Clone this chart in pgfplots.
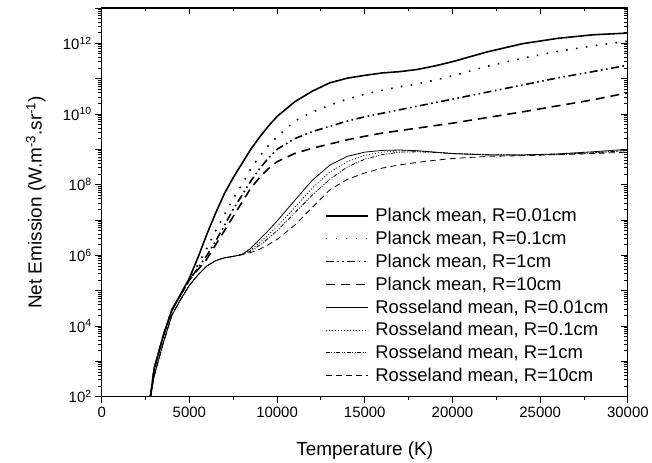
\documentclass[border=0pt]{standalone}
\usepackage{fontspec}
\setmainfont{Liberation Sans}
\usepackage{pgfplots}
\usepackage{pgfplotstable}
\pgfplotsset{compat=1.18}

% Planck mean absorption, net emission vs temperature
\pgfplotstableread{
T      P001     P01      P1       P10
2780   1e2      1e2      1e2      1e2
3000   6.31e2   6.31e2   6.31e2   6.31e2
3500   5.01e3   5.01e3   5.01e3   5.01e3
4000   2.82e4   2.82e4   2.82e4   2.82e4
4500   7.94e4   7.59e4   7.59e4   7.59e4
5000   2.24e5   2.0e5    2.0e5    2.0e5
5500   8.91e5   5.62e5   4.47e5   3.98e5
6000   3.98e6   1.58e6   1.0e6    7.94e5
6500   1.58e7   5.01e6   2.51e6   2.0e6
7000   5.62e7   1.41e7   7.08e6   5.01e6
7500   1.58e8   3.98e7   2.0e7    1.26e7
8000   3.98e8   1.0e8    5.01e7   3.16e7
8500   1.0e9    2.82e8   1.26e8   7.94e7
9000   2.2e9    6.31e8   2.82e8   1.58e8
9500   4.5e9    1.26e9   5.62e8   2.82e8
10000  8.5e9    2.24e9   1.0e9    4.47e8
11000  2.2e10   6.31e9   2.0e9    7.59e8
12000  4.4e10   1.12e10  3.16e9   1.07e9
13000  7.6e10   1.78e10  4.47e9   1.41e9
14000  1.03e11  2.63e10  6.31e9   1.86e9
15000  1.24e11  3.63e10  8.32e9   2.34e9
16000  1.45e11  4.68e10  1.05e10  2.88e9
17000  1.58e11  5.89e10  1.32e10  3.39e9
18000  1.82e11  7.08e10  1.66e10  3.98e9
19000  2.29e11  9.12e10  2.09e10  4.68e9
20000  3.02e11  1.20e11  2.63e10  5.50e9
22000  5.75e11  2.24e11  4.17e10  7.94e9
24000  9.77e11  3.80e11  6.61e10  1.15e10
26000  1.38e12  5.89e11  1.05e11  1.70e10
28000  1.74e12  8.51e11  1.58e11  2.51e10
30000  1.95e12  1.15e12  2.40e11  3.98e10
}\planck

% Rosseland mean absorption
\pgfplotstableread{
T      R001     R01      R1       R10
2780   1e2      1e2      1e2      1e2
3000   3.98e2   3.98e2   3.98e2   3.98e2
3500   3.16e3   3.16e3   3.16e3   3.16e3
4000   2.0e4    2.0e4    2.0e4    2.0e4
4500   5.62e4   5.62e4   5.62e4   5.62e4
5000   1.41e5   1.41e5   1.41e5   1.41e5
5500   2.82e5   2.82e5   2.82e5   2.82e5
6000   5.01e5   5.01e5   5.01e5   5.01e5
6500   7.08e5   7.08e5   7.08e5   7.08e5
7000   8.51e5   8.51e5   8.51e5   8.51e5
7500   9.33e5   9.33e5   9.33e5   9.33e5
8000   1.05e6   1.05e6   1.05e6   1.05e6
8500   1.58e6   1.41e6   1.32e6   1.20e6
9000   2.82e6   2.24e6   1.91e6   1.48e6
9500   5.01e6   3.80e6   3.02e6   2.0e6
10000  9.33e6   6.61e6   5.01e6   2.82e6
11000  3.55e7   2.24e7   1.58e7   7.08e6
12000  1.32e8   7.94e7   5.01e7   2.24e7
13000  3.55e8   2.24e8   1.41e8   7.08e7
14000  6.31e8   4.47e8   3.16e8   1.41e8
15000  8.32e8   6.76e8   5.25e8   2.14e8
16000  9.33e8   8.32e8   7.08e8   2.95e8
17000  9.55e8   9.12e8   8.32e8   3.63e8
18000  9.12e8   8.91e8   8.51e8   4.27e8
19000  8.32e8   8.32e8   8.13e8   4.90e8
20000  7.59e8   7.59e8   7.59e8   5.50e8
22000  6.92e8   7.08e8   7.08e8   6.31e8
24000  6.92e8   6.92e8   6.92e8   6.61e8
26000  7.41e8   7.24e8   7.24e8   7.08e8
28000  8.51e8   7.94e8   7.94e8   7.59e8
30000  1.0e9    9.33e8   9.33e8   8.32e8
}\rosseland

\pgfplotsset{
  commonaxis/.style={
    scale only axis, width=528pt, height=390pt,
    xmin=0, xmax=30000, ymin=1e2, ymax=1e13,
    scaled x ticks=false,
    axis line style={line width=1.1pt},
    xtick={0,5000,...,30000}, minor x tick num=1,
    ytick={1e2,1e3,1e4,1e5,1e6,1e7,1e8,1e9,1e10,1e11,1e12,1e13},
    major tick length=6.5pt, minor tick length=3.5pt,
    every tick/.style={line width=0.9pt, black},
  },
}

\begin{document}
\begin{tikzpicture}
% mirrored ticks on top and right, pointing in
\begin{axis}[ymode=log, commonaxis,
  tick align=inside, xtick pos=right, ytick pos=right,
  xticklabels={}, yticklabels={}]
\end{axis}

\begin{axis}[ymode=log, commonaxis,
  tick align=outside, xtick pos=left, ytick pos=left,
  xticklabel style={/pgf/number format/.cd, fixed, 1000 sep={}},
  /pgf/number format/assume math mode=true,
  tick label style={font=\fontsize{15}{18}\selectfont},
  yticklabels={10\textsuperscript{2},,10\textsuperscript{4},,10\textsuperscript{6},,10\textsuperscript{8},,10\textsuperscript{10},,10\textsuperscript{12},},
  xlabel={Temperature (K)},
  ylabel={Net Emission (W.m\textsuperscript{-3}.sr\textsuperscript{-1})},
  label style={font=\fontsize{19}{22}\selectfont},
  xlabel style={at={(axis description cs:0.5,-0.138)},anchor=center},
  ylabel style={at={(axis description cs:-0.125,0.5)},anchor=center},
  legend cell align=left,
  legend style={draw=none, fill=none, at={(0.424,0.49)}, anchor=north west,
    font=\fontsize{18.5}{22}\selectfont, row sep=4pt, column sep=5pt, inner sep=0pt},
  legend image code/.code={\draw[#1] (0pt,0pt) -- (42pt,0pt);},
]
\addplot[black, line width=1.6pt] table[x=T, y=P001] {\planck};
\addplot[black, line width=1.6pt, dash pattern=on 1.6pt off 8.4pt] table[x=T, y=P01] {\planck};
\addplot[black, line width=1.6pt, dash pattern=on 8pt off 3.5pt on 1.6pt off 3.5pt on 1.6pt off 3.5pt] table[x=T, y=P1] {\planck};
\addplot[black, line width=1.6pt, dash pattern=on 9pt off 6pt] table[x=T, y=P10] {\planck};
\addplot[black, line width=0.8pt] table[x=T, y=R001] {\rosseland};
\addplot[black, line width=0.8pt, dash pattern=on 1pt off 2pt] table[x=T, y=R01] {\rosseland};
\addplot[black, line width=0.8pt, dash pattern=on 4pt off 1.5pt on 1pt off 1.5pt on 1pt off 1.5pt] table[x=T, y=R1] {\rosseland};
\addplot[black, line width=0.8pt, dash pattern=on 6pt off 4pt] table[x=T, y=R10] {\rosseland};
\legend{Planck mean{,} R=0.01cm, Planck mean{,} R=0.1cm, Planck mean{,} R=1cm, Planck mean{,} R=10cm,
  Rosseland mean{,} R=0.01cm, Rosseland mean{,} R=0.1cm, Rosseland mean{,} R=1cm, Rosseland mean{,} R=10cm}
\end{axis}
\path ([shift={(-102pt,-66pt)}]current axis.south west) rectangle ([shift={(22pt,8pt)}]current axis.north east);
\end{tikzpicture}
\end{document}
